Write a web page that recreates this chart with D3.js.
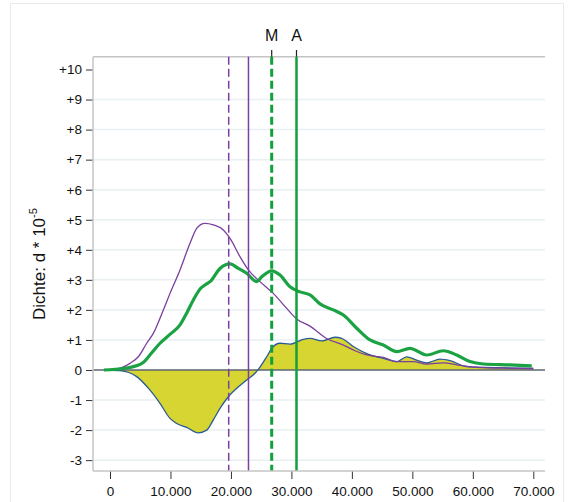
<!DOCTYPE html>
<html><head><meta charset="utf-8">
<script src="https://cdn.jsdelivr.net/npm/d3@7"></script>
<style>body{margin:0;background:#fff}svg{display:block}text{font-family:"Liberation Sans",Arial,sans-serif;fill:#111}</style>
</head><body><svg id="c" width="571" height="502"></svg>
<script>
// values in units of 1e-5, x in currency units
const purple = [[-1000,0],[1650,0.06],[3300,0.22],[4680,0.44],[6070,0.89],[7160,1.22],[8820,2.0],[9920,2.55],[11580,3.33],[13230,4.22],[14330,4.71],[15000,4.84],[15710,4.88],[17090,4.83],[18740,4.66],[19850,4.38],[21500,3.77],[22880,3.33],[24800,2.94],[27000,2.55],[29220,2.05],[30870,1.7],[33070,1.46],[35830,1.05],[38590,0.83],[40500,0.64],[42450,0.5],[45200,0.42],[47410,0.28],[50160,0.28],[52370,0.2],[55120,0.24],[57330,0.17],[60640,0.09],[65000,0.06],[70000,0.05]];
const green = [[-1000,0],[2200,0.05],[4000,0.12],[5500,0.25],[6800,0.55],[8270,0.89],[10000,1.2],[11580,1.5],[12700,1.9],[13780,2.33],[15000,2.72],[15710,2.83],[16540,2.94],[18190,3.38],[19850,3.53],[21220,3.38],[22600,3.22],[24260,2.94],[25080,3.1],[26740,3.3],[28110,3.16],[29770,2.77],[31420,2.6],[33070,2.5],[34730,2.2],[36930,2.0],[38590,1.83],[40800,1.39],[43000,1.0],[45200,0.83],[47410,0.61],[49610,0.72],[52370,0.5],[55120,0.64],[57330,0.5],[59530,0.28],[61740,0.2],[66150,0.17],[69740,0.14]];
const diff = [[-1000,0],[1650,-0.02],[4410,-0.22],[6620,-0.67],[8270,-1.11],[9920,-1.61],[11030,-1.78],[12680,-1.91],[14600,-2.09],[15990,-2.0],[17090,-1.66],[18190,-1.28],[19570,-0.89],[20950,-0.61],[22600,-0.33],[23980,-0.11],[24530,0.02],[25910,0.44],[26740,0.72],[28110,0.89],[29770,0.86],[31970,1.02],[33070,1.05],[35010,0.97],[37210,1.09],[38310,1.05],[40240,0.78],[43000,0.5],[45200,0.39],[47410,0.28],[49060,0.44],[50710,0.33],[52370,0.24],[54570,0.36],[56230,0.31],[58990,0.11],[61740,0.09],[70000,0.05]];
const vlines = [
  {x:19630, color:"#7b3f9e", dash:"8,4", w:1.5},
  {x:22900, color:"#7b3f9e", dash:null, w:1.5},
  {x:26740, color:"#12a03c", dash:"8,4", w:3},
  {x:30840, color:"#12a03c", dash:null, w:2.5}
];
const topLabels = [{x:26740, t:"M"},{x:30840, t:"A"}];
const xTicks = [0,10000,20000,30000,40000,50000,60000,70000];
const yTicks = [-3,-2,-1,0,1,2,3,4,5,6,7,8,9,10];
const yGrid = [-3,-2,-1,1,2,3,4,5,6,7,8,9];

const svg = d3.select("#c");
const x = d3.scaleLinear().domain([0,70000]).range([110,533.3]);
const y = d3.scaleLinear().domain([0,10]).range([370,69.5]);
const pL=93, pR=545, pT=56.7, pB=471;

svg.append("rect").attr("x",10.5).attr("y",3.5).attr("width",553).attr("height",520)
  .attr("fill","none").attr("stroke","#e6ecee");

// grid
svg.append("g").selectAll("line").data(yGrid).join("line")
  .attr("x1",pL).attr("x2",pR).attr("y1",d=>y(d)).attr("y2",d=>y(d))
  .attr("stroke","#e8f0f2").attr("stroke-width",1.5);

// frame top
svg.append("line").attr("x1",pL).attr("x2",pR).attr("y1",pT).attr("y2",pT).attr("stroke","#c4c4c4").attr("stroke-width",1.5);

// difference area
const area = d3.area().x(d=>x(d[0])).y0(y(0)).y1(d=>y(d[1])).curve(d3.curveMonotoneX);
svg.append("path").datum(diff).attr("d",area).attr("fill","#d6d531");
const line = d3.line().x(d=>x(d[0])).y(d=>y(d[1])).curve(d3.curveMonotoneX);

// zero line
svg.append("line").attr("x1",pL).attr("x2",pR).attr("y1",y(0)).attr("y2",y(0)).attr("stroke","#5c6670").attr("stroke-width",1.5);

svg.append("path").datum(diff).attr("d",line).attr("fill","none").attr("stroke","#2b5b94").attr("stroke-width",1.3);
svg.append("path").datum(purple).attr("d",line).attr("fill","none").attr("stroke","#7b3f9e").attr("stroke-width",1.3);
svg.append("path").datum(green).attr("d",line).attr("fill","none").attr("stroke","#1aa243").attr("stroke-width",3.2);

// vertical reference lines
svg.append("g").selectAll("line").data(vlines).join("line")
  .attr("x1",d=>x(d.x)).attr("x2",d=>x(d.x)).attr("y1",pT).attr("y2",pB)
  .attr("stroke",d=>d.color).attr("stroke-width",d=>d.w).attr("stroke-dasharray",d=>d.dash);

// top labels
const tg = svg.append("g");
tg.selectAll("line").data(topLabels).join("line")
  .attr("x1",d=>x(d.x)).attr("x2",d=>x(d.x)).attr("y1",50).attr("y2",pT).attr("stroke","#222").attr("stroke-width",1.2);
tg.selectAll("text").data(topLabels).join("text")
  .attr("x",d=>x(d.x)).attr("y",41).attr("text-anchor","middle").attr("font-size",16).text(d=>d.t);

// axes
const yAxis = d3.axisLeft(y).tickValues(yTicks).tickSize(7).tickPadding(4)
  .tickFormat(d=> d>0 ? "+"+d : String(d));
const gy = svg.append("g").attr("transform",`translate(${pL},0)`).call(yAxis);
gy.select(".domain").remove();
gy.append("line").attr("x1",0).attr("x2",0).attr("y1",pT).attr("y2",pB).attr("stroke","#c4c4c4").attr("stroke-width",1.5);
gy.selectAll(".tick line").attr("stroke","#333");
gy.selectAll(".tick text").attr("font-size",13.5).attr("fill","#111").attr("font-family","Liberation Sans, Arial, sans-serif");

const fmt = d3.formatLocale({decimal:",",thousands:".",grouping:[3],currency:["","€"]}).format(",d");
const xAxis = d3.axisBottom(x).tickValues(xTicks).tickSize(8).tickPadding(7).tickFormat(fmt);
const gx = svg.append("g").attr("transform",`translate(0,${pB})`).call(xAxis);
gx.select(".domain").remove();
gx.append("line").attr("x1",pL).attr("x2",pR).attr("y1",0).attr("y2",0).attr("stroke","#c4c4c4").attr("stroke-width",1.5);
gx.selectAll(".tick line").attr("stroke","#333");
gx.selectAll(".tick text").attr("font-size",13.5).attr("fill","#111").attr("font-family","Liberation Sans, Arial, sans-serif");

// y title
const t = svg.append("text").attr("transform","translate(45,320) rotate(-90)").attr("font-size",17);
t.append("tspan").text("Dichte: d * 10");
t.append("tspan").attr("font-size",11).attr("dy",-8).text("-5");
</script></body></html>
